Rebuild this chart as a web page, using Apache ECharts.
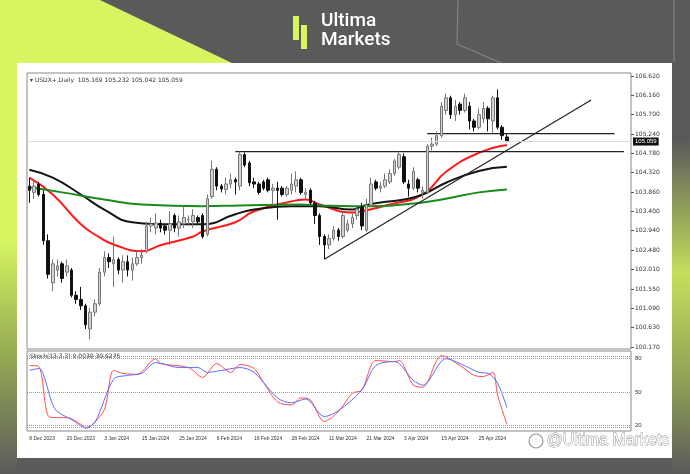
<!DOCTYPE html>
<html>
<head>
<meta charset="utf-8">
<script src="https://cdn.jsdelivr.net/npm/echarts@6/dist/echarts.min.js"></script>
<style>
  html, body { margin: 0; padding: 0; background: #5a5a5a; }
  #chart { width: 690px; height: 474px; }
</style>
</head>
<body>
<div id="chart"></div>
<script>
// 日线K线数据 [open, close, low, high]
const candles = [
  [104.0,103.9,103.6,104.2],[103.85,104.0,103.7,104.15],[104.05,103.8,103.75,104.1],[103.8,102.7,102.6,103.9],
  [102.7,101.9,101.8,102.85],[101.7,102.15,101.5,102.25],[102.0,102.1,101.85,102.25],[102.15,101.8,101.7,102.2],
  [101.95,102.1,101.85,102.25],[102.0,101.4,101.35,102.05],[101.4,101.3,101.2,101.5],[101.3,101.15,101.05,101.6],
  [101.15,100.7,100.6,101.2],[100.6,101.0,100.35,101.1],[101.0,101.2,100.9,101.3],[101.2,101.95,101.15,102.05],
  [101.95,102.3,101.85,102.45],[102.3,102.2,102.05,102.4],[102.15,102.25,101.6,102.8],[102.25,102.0,101.9,102.3],
  [102.0,102.2,101.7,102.35],[102.2,102.0,101.85,102.35],[102.0,102.15,101.75,102.3],[102.15,102.3,102.1,102.45],
  [102.3,102.35,102.15,102.5],[102.45,103.05,102.4,103.15],[103.05,103.1,102.9,103.25],[103.0,103.12,102.85,103.35],
  [103.12,103.0,102.9,103.2],[103.05,102.95,102.85,103.1],[102.95,103.1,102.6,103.4],[103.3,103.0,102.9,103.35],
  [103.0,103.15,102.8,103.3],[103.1,103.25,103.0,103.5],[103.2,103.21,103.05,103.3],[103.15,103.3,103.0,103.45],
  [103.25,103.15,103.1,103.3],[103.3,102.8,102.75,103.35],[102.85,103.7,102.8,103.8],[103.75,104.4,103.7,104.6],
  [104.4,104.0,103.9,104.45],[104.0,103.93,103.85,104.05],[103.92,104.05,103.8,104.2],[104.05,104.15,103.95,104.3],
  [104.15,104.1,103.8,104.2],[104.0,104.75,103.9,104.82],[104.75,104.5,104.45,104.8],[104.55,104.08,104.0,104.6],
  [104.1,104.05,103.95,104.2],[104.05,103.85,103.8,104.1],[104.1,103.95,103.9,104.15],[104.15,103.9,103.85,104.2],
  [103.9,103.95,103.55,104.05],[103.95,103.9,103.2,104.1],[103.95,103.8,103.75,104.0],[103.8,103.95,103.75,104.0],
  [103.9,104.05,103.8,104.3],[104.0,104.15,103.85,104.35],[104.15,103.85,103.8,104.2],[103.8,103.85,103.7,103.95],
  [103.9,103.6,103.55,103.95],[103.6,103.3,103.1,103.65],[103.3,102.8,102.6,103.35],[102.8,102.6,102.26,102.85],
  [102.6,102.75,102.5,102.85],[102.75,102.95,102.7,103.05],[102.95,102.8,102.7,103.0],[102.8,103.3,102.75,103.4],
  [102.95,103.1,102.9,103.2],[103.1,103.25,103.0,103.35],[103.3,103.45,103.2,103.55],[103.5,103.05,102.95,103.6],
  [102.95,103.55,102.9,103.7],[103.55,104.05,103.5,104.2],[104.1,103.95,103.9,104.15],[103.95,104.0,103.85,104.1],
  [104.0,104.15,103.95,104.3],[104.1,104.3,104.05,104.4],[104.3,104.6,104.25,104.65],[104.45,104.75,104.4,104.82],
  [104.7,104.1,104.05,104.78],[104.05,103.95,103.75,104.15],[103.95,104.35,103.9,104.45],[104.15,103.95,103.85,104.2],
  [103.85,103.9,103.7,104.0],[103.85,104.95,103.8,105.0],[104.95,105.0,104.85,105.15],[105.0,105.2,104.95,105.3],
  [105.2,105.9,105.15,106.0],[105.8,106.1,105.7,106.2],[106.1,105.7,105.6,106.15],[105.7,105.9,105.55,106.05],
  [105.95,105.8,105.7,106.0],[105.8,106.1,105.75,106.2],[105.9,105.55,105.35,106.0],[105.55,105.4,105.3,105.6],
  [105.4,105.7,105.35,105.85],[105.6,105.85,105.5,106.0],[105.85,105.6,105.3,105.9],[105.55,106.1,105.25,106.15],
  [106.1,105.4,105.35,106.3],[105.4,105.2,105.1,105.45],[105.169,105.059,105.042,105.232]
];

// 均线 (index, value) 读图取样
const maRed = [[0,104.2],[5,103.8],[11,103.09],[15,102.78],[18,102.61],[24,102.45],[28,102.59],[35,102.8],[37,102.92],[44,103.14],[48,103.4],[55,103.61],[59,103.68],[62,103.56],[69,103.37],[71,103.4],[77,103.56],[84,103.8],[89,104.34],[96,104.79],[102,104.98]];
const maBlack = [[0,104.39],[5,104.2],[11,103.8],[16,103.44],[22,103.14],[30,103.09],[37,103.09],[44,103.33],[48,103.44],[56,103.52],[62,103.52],[69,103.44],[71,103.52],[75,103.61],[80,103.68],[84,103.8],[89,104.08],[96,104.36],[102,104.46]];
const maGreen = [[0,103.97],[7,103.85],[16,103.68],[24,103.56],[37,103.52],[45,103.54],[58,103.56],[62,103.54],[69,103.52],[84,103.61],[96,103.85],[102,103.92]];

// 画线
const resist1 = [[85,105.25],[125,105.25]];
const resist2 = [[44,104.82],[127,104.82]];
const trendLine = [[63,102.26],[120,106.05]];

// Stoch(13,3,3)
const stochMain = [[0,73.8],[2,73],[4,28.8],[6,27],[8,27],[11,21],[12,17.4],[13,19],[16,34],[18,69.4],[20,66.8],[23,65.9],[27,80],[28,75.6],[34,72],[37,63.2],[40,75.6],[43,67.7],[45,74.7],[48,71.2],[50,58.8],[53,41.2],[56,38.5],[58,44.7],[60,43],[63,23.5],[66,32.4],[69,49],[71,51.8],[74,78.3],[78,77.4],[79,78.3],[82,56.2],[84,54.4],[87,78.3],[88,82.7],[92,73.8],[95,65],[97,64],[99,67.7],[100,47.4],[102,21]];
const stochSignal = [[0,69.4],[2,71.2],[5,38.5],[6,32.4],[9,25.3],[12,18.2],[14,22.6],[18,61.5],[21,65],[24,66.8],[27,76.5],[32,72],[36,72],[38,67.7],[41,69.4],[45,72],[48,67.7],[53,44.7],[56,40.3],[59,43.8],[63,28],[66,33.2],[71,51.8],[74,73.8],[78,77.4],[82,60.6],[84,56.2],[89,80],[92,75.6],[96,67.7],[98,66.8],[100,58],[102,35.9]];

const priceTicks = [100.17,100.63,101.09,101.55,102.01,102.48,102.94,103.4,103.86,104.32,104.78,105.24,105.7,106.16,106.62];
const dateTicks = ['8 Dec 2023','20 Dec 2023','3 Jan 2024','15 Jan 2024','25 Jan 2024','6 Feb 2024','16 Feb 2024','28 Feb 2024','11 Mar 2024','21 Mar 2024','3 Apr 2024','15 Apr 2024','25 Apr 2024'];
const slotCount = 129;
const categories = Array.from({ length: slotCount }, (_, i) => i);

const chart = echarts.init(document.getElementById('chart'));

const lineSeries = (name, data, color, width, xi, yi, smooth) => ({
  name, type: 'line', data, xAxisIndex: xi, yAxisIndex: yi,
  symbol: 'none', connectNulls: true, smooth: smooth,
  lineStyle: { color, width }, silent: true, z: 3
});

const option = {
  animation: false,
  backgroundColor: '#5a5a5a',
  graphic: [
    { type: 'polygon', shape: { points: [[0,0],[100,0],[232,63],[17,63],[17,250],[0,280]] }, style: { fill: '#d6f561' }, z: -10 },
    { type: 'rect', shape: { x: 0, y: 240, width: 17, height: 234 },
      style: { fill: new echarts.graphic.LinearGradient(0,0,0,1,[{offset:0,color:'#d6f561'},{offset:0.5,color:'#93a852'},{offset:1,color:'#5a5a5a'}]) }, z: -10 },
    { type: 'rect', shape: { x: 672, y: 140, width: 18, height: 334 },
      style: { fill: new echarts.graphic.LinearGradient(0,0,0,1,[{offset:0,color:'#5a5a5a'},{offset:0.4,color:'#c4df5c'},{offset:0.75,color:'#8a9a55'},{offset:1,color:'#5a5a5a'}]) }, z: -10 },
    { type: 'polyline', shape: { points: [[458,0],[457,44],[536,78]] }, style: { stroke: '#8a8a8a', lineWidth: 1, fill: null }, z: -9 },
    { type: 'polyline', shape: { points: [[674,0],[674,62]] }, style: { stroke: '#8a8a8a', lineWidth: 1, fill: null }, z: -9 },
    // logo
    { type: 'rect', shape: { x: 293, y: 16, width: 6, height: 24 }, style: { fill: '#d6f561' } },
    { type: 'rect', shape: { x: 301, y: 25, width: 6, height: 24 }, style: { fill: '#d6f561' } },
    { type: 'text', left: 321, top: 12, style: { text: 'Ultima', fill: '#fff', font: '500 19px Roboto' } },
    { type: 'text', left: 321, top: 31, style: { text: 'Markets', fill: '#fff', font: '500 19px Roboto' } },
    // white card
    { type: 'rect', shape: { x: 17, y: 63, width: 655, height: 395 }, style: { fill: '#fff' }, z: -5 },
    { type: 'rect', shape: { x: 27, y: 73, width: 604, height: 276 }, style: { fill: 'none', stroke: '#888', lineWidth: 1 } },
    { type: 'rect', shape: { x: 27, y: 351, width: 604, height: 80 }, style: { fill: 'none', stroke: '#888', lineWidth: 1 } },
    { type: 'text', left: 30, top: 77, style: { text: '\u25BE USDX+,Daily  105.169 105.232 105.042 105.059', fill: '#333', font: '6px "DejaVu Sans"' } },
    { type: 'text', left: 30, top: 353, style: { text: 'Stoch(13,3,3) 9.0030 30.6275', fill: '#333', font: '6px "DejaVu Sans"' } },
    // watermark
    { type: 'circle', shape: { cx: 536, cy: 441, r: 7 }, style: { fill: 'none', stroke: '#999', lineWidth: 1.2 } },
    { type: 'text', left: 546, top: 432, style: { text: '@Ultima Markets', fill: '#fff', stroke: '#888', lineWidth: 0.8, font: '16px "Liberation Sans"' } }
  ],
  grid: [
    { left: 27, right: 59, top: 76, height: 271 },
    { left: 27, right: 59, top: 352, height: 79 }
  ],
  xAxis: [
    { type: 'category', data: categories, gridIndex: 0, boundaryGap: true,
      axisLine: { show: false }, axisTick: { show: false }, axisLabel: { show: false } },
    { type: 'category', data: categories, gridIndex: 1, boundaryGap: true,
      axisLine: { show: false }, axisTick: { show: false },
      axisLabel: { interval: 7, align: 'left', margin: 5, fontSize: 5, color: '#333', fontFamily: 'Liberation Sans',
        formatter: (v, i) => dateTicks[i / 8] || '' } }
  ],
  yAxis: [
    { type: 'value', gridIndex: 0, position: 'right', min: 100.17, max: 106.62, scale: true,
      splitLine: { show: false }, axisLine: { show: false },
      axisTick: { show: true, customValues: priceTicks, length: 3, lineStyle: { color: '#555' } },
      axisLabel: { customValues: priceTicks, fontSize: 6, color: '#333', margin: 4, fontFamily: 'DejaVu Sans',
        formatter: v => v.toFixed(3) } },
    { type: 'value', gridIndex: 1, position: 'right', min: 15, max: 86, interval: 5,
      splitLine: { show: false }, axisLine: { show: false }, axisTick: { show: false },
      axisLabel: { fontSize: 6, color: '#333', margin: 4,
        formatter: v => (v === 20 || v === 50 || v === 80) ? String(v) : '' } }
  ],
  series: [
    { type: 'candlestick', data: candles, xAxisIndex: 0, yAxisIndex: 0, barWidth: 3, z: 4,
      itemStyle: { color: '#d2d2d2', borderColor: '#777', color0: '#111', borderColor0: '#111', borderWidth: 1 },
      markLine: { symbol: 'none', silent: true, data: [{ yAxis: 105.059 }],
        lineStyle: { color: '#dadada', type: 'solid', width: 1 },
        label: { position: 'end', formatter: '105.059', backgroundColor: '#111', color: '#fff', fontSize: 6, padding: [1, 2], distance: 2 } } },
    lineSeries('ma1', maRed, '#ff1a1a', 2, 0, 0, true),
    lineSeries('ma2', maBlack, '#151515', 2, 0, 0, true),
    lineSeries('ma3', maGreen, '#1a8a1a', 2, 0, 0, true),
    lineSeries('r1', resist1, '#222', 1.2, 0, 0, false),
    lineSeries('r2', resist2, '#222', 1.2, 0, 0, false),
    lineSeries('trend', trendLine, '#222', 1.2, 0, 0, false),
    Object.assign(lineSeries('stoch', stochMain, '#ff4a4a', 1, 1, 1, 0.3), {
      markLine: { symbol: 'none', silent: true, label: { show: false },
        lineStyle: { color: '#999', type: 'dotted', width: 1 },
        data: [{ yAxis: 20 }, { yAxis: 50 }, { yAxis: 80 }, { yAxis: 18 }, { yAxis: 82 }] } }),
    lineSeries('signal', stochSignal, '#5b6cff', 1, 1, 1, 0.3)
  ]
};

chart.setOption(option);
</script>
</body>
</html>
